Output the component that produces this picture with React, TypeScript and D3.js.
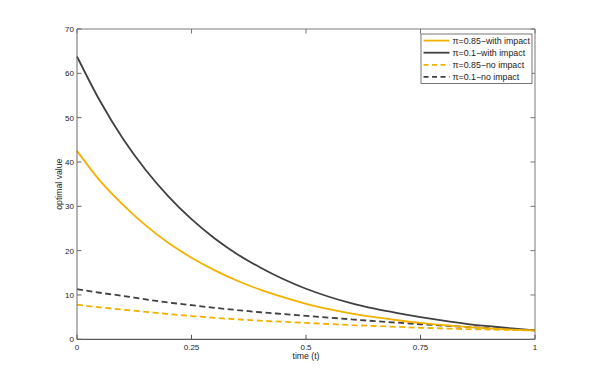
import React from "react";
import * as d3 from "d3";

const times = [0, 0.05, 0.1, 0.15, 0.2, 0.25, 0.3, 0.35, 0.4, 0.45, 0.5, 0.55, 0.6, 0.65, 0.7, 0.75, 0.8, 0.85, 0.9, 0.95, 1];
const hiWithImpact = [42.5, 35.8, 30.4, 25.7, 21.7, 18.4, 15.6, 13.2, 11.2, 9.5, 8.0, 6.8, 5.8, 5.0, 4.3, 3.7, 3.2, 2.8, 2.45, 2.2, 2.0];
const loWithImpact = [63.8, 53.8, 45.3, 38.2, 32.2, 27.1, 22.8, 19.2, 16.2, 13.6, 11.4, 9.6, 8.1, 6.9, 5.9, 5.0, 4.2, 3.5, 2.95, 2.45, 2.0];
const hiNoImpact = [7.8, 7.2, 6.7, 6.2, 5.7, 5.25, 4.85, 4.5, 4.2, 3.95, 3.7, 3.45, 3.2, 3.0, 2.8, 2.6, 2.45, 2.3, 2.2, 2.1, 2.0];
const loNoImpact = [11.3, 10.5, 9.8, 9.0, 8.3, 7.7, 7.1, 6.6, 6.1, 5.7, 5.3, 4.9, 4.5, 4.1, 3.75, 3.4, 3.1, 2.8, 2.5, 2.25, 2.0];

const seriesNames = ["\u03c0=0.85\u2212with impact", "\u03c0=0.1\u2212with impact", "\u03c0=0.85\u2212no impact", "\u03c0=0.1\u2212no impact"];
const xTicks = [0, 0.25, 0.5, 0.75, 1];
const xTickLabels = ["0", "0.25", "0.5", "0.75", "1"];
const yTicks = [0, 10, 20, 30, 40, 50, 60, 70];

const ORANGE = "#f2b100";
const DARK = "#404040";

export default function App() {
  const W = 591, H = 382;
  const left = 77, right = 535, top = 29, bottom = 339.3;
  const x = d3.scaleLinear().domain([0, 1]).range([left, right]);
  const y = d3.scaleLinear().domain([0, 70]).range([bottom, top]);
  const line = d3.line<[number, number]>().x(d => x(d[0])).y(d => y(d[1])).curve(d3.curveMonotoneX);

  const series = [
    { name: seriesNames[0], vals: hiWithImpact, color: ORANGE, dash: null },
    { name: seriesNames[1], vals: loWithImpact, color: DARK, dash: null },
    { name: seriesNames[2], vals: hiNoImpact, color: ORANGE, dash: "6,3.5" },
    { name: seriesNames[3], vals: loNoImpact, color: DARK, dash: "6,3.5" },
  ];
  const drawOrder = [3, 2, 1, 0];
  const font = "Liberation Sans, Arial, Helvetica, sans-serif";
  const tl = 4.5;

  return (
    <svg width={W} height={H} style={{ position: "absolute", left: 0, top: 0, background: "#fff" }} fontFamily={font}>
      <rect x={0} y={0} width={W} height={H} fill="#fff" />
      {/* series */}
      {drawOrder.map(i => {
        const s = series[i];
        const pts = times.map((t, k) => [t, s.vals[k]] as [number, number]);
        return (
          <path key={i} d={line(pts) || ""} fill="none" stroke={s.color} strokeWidth={1.8}
            strokeDasharray={s.dash || undefined} />
        );
      })}
      {/* box */}
      <line x1={left} x2={right} y1={top} y2={top} stroke="#7a7a7a" strokeWidth={1} />
      <line x1={right} x2={right} y1={top} y2={bottom} stroke="#7a7a7a" strokeWidth={1} />
      <line x1={left} x2={left} y1={top} y2={bottom} stroke="#6a6a6a" strokeWidth={1} />
      <line x1={left} x2={right} y1={bottom} y2={bottom} stroke="#333" strokeWidth={1} />
      {/* x ticks */}
      {xTicks.map((t, i) => (
        <g key={"x" + i}>
          <line x1={x(t)} x2={x(t)} y1={bottom} y2={bottom - tl} stroke="#555" />
          <line x1={x(t)} x2={x(t)} y1={top} y2={top + tl} stroke="#777" />
          <text x={x(t)} y={bottom + 11} fontSize={8} textAnchor="middle" fill="#222">{xTickLabels[i]}</text>
        </g>
      ))}
      {/* y ticks */}
      {yTicks.map((v, i) => (
        <g key={"y" + i}>
          <line x1={left} x2={left + tl} y1={y(v)} y2={y(v)} stroke="#666" />
          <line x1={right} x2={right - tl} y1={y(v)} y2={y(v)} stroke="#777" />
          <text x={left - 3} y={y(v) + 3} fontSize={8} textAnchor="end" fill="#222">{v}</text>
        </g>
      ))}
      {/* axis labels */}
      <text x={(left + right) / 2} y={359} fontSize={8.7} textAnchor="middle" fill="#222">time (t)</text>
      <text transform={`translate(62,${(top + bottom) / 2}) rotate(-90)`} fontSize={8.7} textAnchor="middle" fill="#222">optimal value</text>
      {/* legend */}
      <rect x={421} y={34} width={111} height={49.5} fill="#fff" stroke="#555" strokeWidth={0.8} />
      {series.map((s, i) => {
        const ly = 40.6 + i * 12.1;
        return (
          <g key={"l" + i}>
            <line x1={423.5} x2={449.5} y1={ly} y2={ly} stroke={s.color} strokeWidth={1.8} strokeDasharray={s.dash ? "5,3.5" : undefined} />
            <text x={452.5} y={ly + 3} fontSize={8.8} fill="#222">{s.name}</text>
          </g>
        );
      })}
    </svg>
  );
}
